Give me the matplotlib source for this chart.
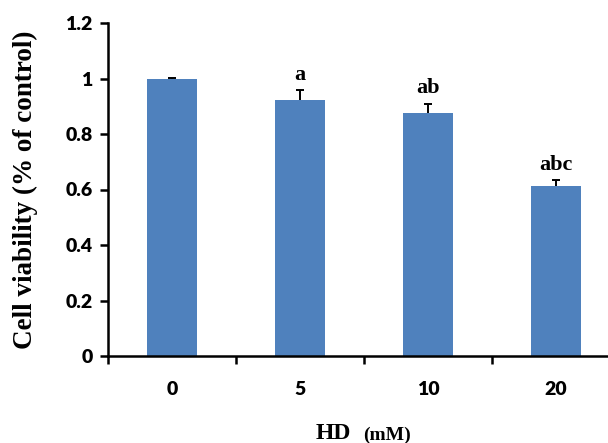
import matplotlib
matplotlib.use('Agg')
import matplotlib.pyplot as plt
import numpy as np

doses = ['0', '5', '10', '20']
viability = [1.0, 0.921, 0.875, 0.611]
err_up = [0.003, 0.036, 0.033, 0.023]
letters = ['', 'a', 'ab', 'abc']

bar_color = '#4F81BD'

fig = plt.figure(figsize=(6.08, 4.43), dpi=100)
ax = fig.add_axes([108/608, 87/443, 512/608, 333/443])

x = np.arange(len(doses))
tops = np.array(viability) + np.array(err_up)
ax.bar(x, viability, width=0.39, color=bar_color, zorder=2)
ax.errorbar(x, viability, yerr=[np.zeros(len(x)), err_up], fmt='none',
            ecolor='black', elinewidth=1.4, capsize=0, zorder=3)
ax.plot(x, tops, linestyle='none', marker='_', markersize=6,
        markeredgewidth=1.4, color='black', zorder=3)

for xi, t, lab in zip(x, tops, letters):
    if lab:
        ax.annotate(lab, (xi, t), xytext=(0, 4), textcoords='offset points',
                    ha='center', va='bottom', fontsize=16, fontweight='bold',
                    family='Liberation Serif')

ax.set_xlim(-0.5, 3.5)
ax.set_ylim(0, 1.2)
ax.set_yticks([0, 0.2, 0.4, 0.6, 0.8, 1.0, 1.2])
ax.set_yticklabels(['0', '0.2', '0.4', '0.6', '0.8', '1', '1.2'])

# ticks between categories, labels at centres
ax.set_xticks([-0.5, 0.5, 1.5, 2.5, 3.5])
ax.set_xticklabels([])
ax.set_xticks(x, minor=True)
ax.set_xticklabels(doses, minor=True)
ax.tick_params(axis='x', which='minor', length=0, pad=18)
ax.tick_params(axis='x', which='major', length=6, width=1.8, direction='out')
ax.tick_params(axis='y', length=6, width=1.8, direction='out', pad=5)

for lbl in ax.get_xticklabels(minor=True) + ax.get_yticklabels():
    lbl.set_fontfamily('Lato')
    lbl.set_fontweight('heavy')
    lbl.set_fontsize(14)

for s in ['top', 'right']:
    ax.spines[s].set_visible(False)
for s in ['left', 'bottom']:
    ax.spines[s].set_linewidth(1.8)

ax.set_ylabel('Cell viability (% of control)', fontsize=19.5, fontweight='bold',
              family='Liberation Serif')
ax.yaxis.set_label_coords(-0.137, 0.5)

fig.text(0.577, 0.008, 'HD', fontsize=17, fontweight='bold', family='Liberation Serif',
         ha='right', va='baseline')
fig.text(0.597, 0.008, '(mM)', fontsize=14, fontweight='bold', family='Liberation Serif',
         ha='left', va='baseline')

fig.savefig('out.png', dpi=100)
